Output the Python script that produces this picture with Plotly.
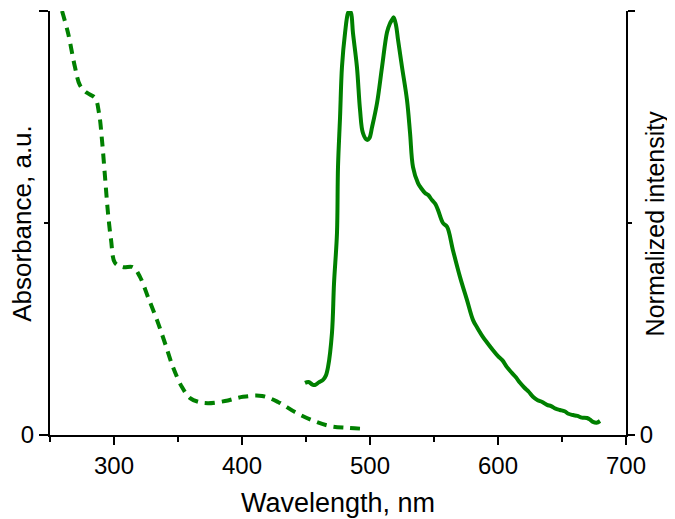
import plotly.graph_objects as go

# absorbance (dashed)
abs_nm = [259.4, 264.1, 269.5, 273.4, 278.9, 285.2, 288.3, 290.6, 293.0, 295.3,
          297.7, 300.8, 307.0, 314.8, 320.3, 326.6, 333.6, 339.8, 346.1, 353.1,
          359.4, 366.0, 373.4, 386.7, 400.8, 415.6, 428.1, 441.4, 454.7, 468.8,
          482.8, 497.7]
abs_val = [1.0, 0.948, 0.868, 0.825, 0.807, 0.795, 0.759, 0.696, 0.608, 0.524,
           0.460, 0.406, 0.396, 0.396, 0.373, 0.325, 0.271, 0.217, 0.160, 0.113,
           0.087, 0.078, 0.075, 0.080, 0.090, 0.092, 0.078, 0.054, 0.035, 0.021,
           0.017, 0.014]

# emission (solid), normalized
em_nm = [449.2, 452.0, 455.0, 457.0, 460.0, 463.3, 465.5, 467.2, 470.3, 471.9,
         474.2, 475.0, 476.6, 478.1, 480.5, 482.8, 484.0, 485.2, 486.7, 489.8,
         492.2, 494.5, 497.7, 499.5, 501.6, 505.5, 509.4, 513.3, 515.5, 517.2,
         518.5, 520.3, 521.9, 525.0, 528.9, 531.3, 533.6, 537.5, 540.0, 543.0,
         545.5, 548.4, 551.0, 553.1, 557.0, 560.2, 564.8, 570.3, 575.8, 580.5,
         584.0, 588.3, 592.0, 596.1, 600.0, 603.5, 607.0, 611.0, 614.0, 617.2,
         620.5, 624.0, 627.3, 631.0, 634.5, 638.3, 641.5, 645.0, 648.4, 652.0,
         655.0, 658.6, 662.0, 665.5, 669.5, 672.0, 674.2, 677.0, 679.7]
em_val = [0.123, 0.125, 0.119, 0.118, 0.124, 0.130, 0.140, 0.160, 0.241, 0.358,
          0.476, 0.632, 0.750, 0.868, 0.948, 0.995, 1.0, 0.995, 0.948, 0.868,
          0.767, 0.712, 0.696, 0.700, 0.726, 0.783, 0.868, 0.950, 0.970, 0.979,
          0.985, 0.967, 0.932, 0.868, 0.790, 0.712, 0.632, 0.594, 0.582, 0.571,
          0.566, 0.554, 0.545, 0.531, 0.500, 0.491, 0.436, 0.373, 0.318, 0.271,
          0.252, 0.231, 0.216, 0.200, 0.186, 0.176, 0.160, 0.146, 0.136, 0.123,
          0.112, 0.102, 0.090, 0.082, 0.078, 0.071, 0.068, 0.062, 0.059, 0.056,
          0.050, 0.047, 0.045, 0.041, 0.040, 0.036, 0.031, 0.029, 0.033]

green = '#008000'
font = 'Arial, Liberation Sans, sans-serif'

fig = go.Figure()

fig.add_trace(go.Scatter(
    x=abs_nm, y=abs_val,
    mode='lines',
    name='Absorbance',
    line=dict(color=green, width=4, dash='10px,7px', shape='spline'),
))

fig.add_trace(go.Scatter(
    x=em_nm, y=em_val,
    mode='lines',
    name='Emission',
    yaxis='y2',
    line=dict(color=green, width=4, shape='spline'),
))

axis_common = dict(
    showline=True, linecolor='black', linewidth=2,
    ticks='outside', tickcolor='black', tickwidth=2,
    showgrid=False, zeroline=False, automargin=False,
    tickfont=dict(family=font, size=24, color='black'),
)
minor_tick = dict(ticks='outside', tickcolor='black', tickwidth=2)

# page body keeps its default 8px margin, so the figure is a bit smaller
fig.update_layout(
    width=667, height=511,
    margin=dict(l=42, r=49, t=3, b=84),
    paper_bgcolor='white', plot_bgcolor='white',
    showlegend=False,
    font=dict(family=font, color='black'),
    xaxis=dict(
        range=[250, 700], tickvals=[300, 400, 500, 600, 700], ticklen=8,
        minor=dict(tickvals=[250, 350, 450, 550, 650], ticklen=5, **minor_tick),
        **axis_common,
    ),
    yaxis=dict(
        range=[0, 1], tickvals=[0, 1], ticklen=9,
        minor=dict(tickvals=[0.5], ticklen=4, **minor_tick),
        **axis_common,
    ),
    yaxis2=dict(
        range=[0, 1], tickvals=[0, 1], ticklen=7,
        overlaying='y', side='right',
        minor=dict(tickvals=[0.5], ticklen=4, **minor_tick),
        **axis_common,
    ),
    annotations=[
        dict(text='Wavelength, nm', xref='paper', yref='paper',
             x=0.5, y=-0.16, xanchor='center', yanchor='middle',
             showarrow=False, font=dict(size=27)),
        dict(text='Absorbance, a.u.', xref='paper', yref='paper',
             x=-0.049, y=0.5, xanchor='center', yanchor='middle',
             textangle=-90, showarrow=False, font=dict(size=26)),
        dict(text='Normalized intensity', xref='paper', yref='paper',
             x=1.051, y=0.5, xanchor='center', yanchor='middle',
             textangle=-90, showarrow=False, font=dict(size=25)),
    ],
)

fig.write_html("out.html")
